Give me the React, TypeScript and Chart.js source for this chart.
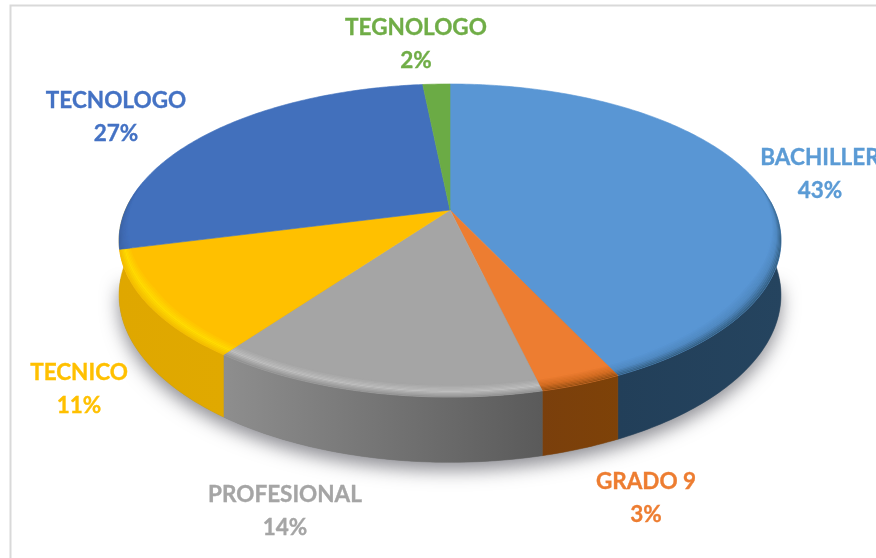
import React, { useEffect, useRef } from "react";
import { Chart, registerables, ArcElement, PieController } from "chart.js";

const categories = ["BACHILLER", "GRADO 9", "PROFESIONAL", "TECNICO", "TECNOLOGO", "TEGNOLOGO"];
const shares = [43, 3.3, 13.7, 11, 27.4, 1.6];
const sliceColors = ["#5996D4", "#ED7D31", "#A5A5A5", "#FFC000", "#4270BC", "#6BAB45"];
const labelColors = ["#5B9BD5", "#ED7D31", "#A5A5A5", "#FFC000", "#4472C4", "#70AD47"];

// Appearance tables
const wallStops = [
  ["#223F59", "#25445F"],
  ["#7A3F0C", "#7E4208"],
  ["#8E8E8E", "#5A5A5A"],
  ["#DFA700", "#E0A900"],
];
const rimStops = [
  ["#5996D4", "#4F88C0", "#2F5878"],
  ["#ED7D31", "#D06A20", "#8A4A10"],
  ["#A5A5A5", "#BEBEBE", "#8A8A8A"],
  ["#FFC000", "#FFDC00", "#F0B800"],
  ["#4270BC", "#3F6AB2", "#3A5F9E"],
  ["#6BAB45", "#62A03F", "#568C37"],
];
const labelPlaces = [
  [820, 158],
  [646, 482],
  [285, 495],
  [79, 373],
  [116, 101],
  [416, 28],
];

const VIEW = { cx: 450, cy: 210, a: 324.6, b: 150.6, p: 0.195, depth: 52.5 };

function project(angle: number, r = 1, z = 0): [number, number] {
  const u = r * Math.cos(angle);
  const v = r * Math.sin(angle);
  const w = 1 - VIEW.p * v;
  return [VIEW.cx + (VIEW.a * u) / w, VIEW.cy + (VIEW.b * v) / w + (z * VIEW.depth) / w];
}

function hexMix(c1: string, c2: string, t: number) {
  const h = (c: string, i: number) => parseInt(c.slice(1 + i * 2, 3 + i * 2), 16);
  const m = (i: number) => Math.round(h(c1, i) + (h(c2, i) - h(c1, i)) * t);
  return `rgb(${m(0)},${m(1)},${m(2)})`;
}

function bevelWidth(angle: number) {
  const v = Math.sin(angle);
  return 0.055 * Math.max(0, Math.min(1, (v + 0.2) / 0.7));
}

const RIM_STEPS = 10;

function tracePoints(ctx: CanvasRenderingContext2D, pts: [number, number][]) {
  pts.forEach(([x, y], i) => (i ? ctx.lineTo(x, y) : ctx.moveTo(x, y)));
}

function angleSteps(a0: number, a1: number) {
  const n = Math.max(2, Math.ceil(Math.abs(a1 - a0) / 0.015));
  const out: number[] = [];
  for (let i = 0; i <= n; i++) out.push(a0 + ((a1 - a0) * i) / n);
  return out;
}

class ProjectedArc extends ArcElement {
  static id = "projectedArc";
  draw(ctx: CanvasRenderingContext2D) {
    const el = this as any;
    const index = el.$context ? el.$context.dataIndex : 0;
    const color = el.options.backgroundColor;
    const angles = angleSteps(el.startAngle, el.endAngle);
    ctx.save();
    ctx.fillStyle = color;
    ctx.strokeStyle = color;
    ctx.lineWidth = 0.6;
    ctx.beginPath();
    ctx.moveTo(VIEW.cx, VIEW.cy);
    angles.forEach((t) => {
      const [x, y] = project(t);
      ctx.lineTo(x, y);
    });
    ctx.closePath();
    ctx.fill();
    ctx.stroke();
    const [c0, c1, c2] = rimStops[index];
    for (let k = 0; k < RIM_STEPS; k++) {
      const f0 = k / RIM_STEPS;
      const f1 = (k + 1) / RIM_STEPS;
      const col = f0 < 0.5 ? hexMix(c0, c1, f0 * 2) : hexMix(c1, c2, (f0 - 0.5) * 2);
      const outer = angles.map((t) => project(t, 1 - bevelWidth(t) * (1 - f1)));
      const inner = angles.map((t) => project(t, 1 - bevelWidth(t) * (1 - f0))).reverse();
      ctx.fillStyle = col;
      ctx.beginPath();
      tracePoints(ctx, outer.concat(inner));
      ctx.closePath();
      ctx.fill();
    }
    ctx.restore();
  }
}

class ProjectedPie extends PieController {
  static id = "projectedPie";
  static defaults = { dataElementType: "projectedArc" };
}

const extrusion = {
  id: "extrusion",
  beforeDatasetsDraw(chart: any) {
    const { ctx } = chart;
    const arcs = chart.getDatasetMeta(0).data;
    ctx.save();
    // frame
    ctx.strokeStyle = "#D9D9D9";
    ctx.lineWidth = 2;
    ctx.beginPath();
    ctx.moveTo(876, 5.5);
    ctx.lineTo(10.5, 5.5);
    ctx.lineTo(10.5, 558);
    ctx.stroke();
    // soft shadow under the front half of the disc
    ctx.save();
    ctx.shadowColor = "rgba(50,50,60,0.55)";
    ctx.shadowBlur = 18;
    ctx.shadowOffsetY = 8;
    ctx.fillStyle = "#808080";
    ctx.beginPath();
    tracePoints(ctx, angleSteps(0.1, Math.PI - 0.1).map((t) => project(t, 1, 1)));
    ctx.closePath();
    ctx.fill();
    ctx.restore();
    // side wall of each slice that faces the viewer
    arcs.slice(0, wallStops.length).forEach((arc: any, i: number) => {
      const isLast = i === wallStops.length - 1;
      const isFirst = i === 0;
      // the outermost visible walls run on to the silhouette's turning point
      const from = isFirst ? Math.max(arc.startAngle, -0.05) : arc.startAngle;
      const to = isLast ? Math.PI + 0.08 : arc.endAngle;
      const angles = angleSteps(from, to);
      const top = angles.map((t) => project(t, 1, 0));
      const bottom = angles.map((t) => project(t, 1, 1)).reverse();
      const xs = top.map((p) => p[0]);
      const x0 = Math.min(...xs);
      const x1 = Math.max(...xs);
      const g = ctx.createLinearGradient(x0, 0, x1 + 1, 0);
      const [a, b] = wallStops[i];
      g.addColorStop(0, a);
      g.addColorStop(1, b);
      ctx.fillStyle = g;
      ctx.strokeStyle = g;
      ctx.lineWidth = 0.5;
      ctx.beginPath();
      tracePoints(ctx, top.concat(bottom));
      ctx.closePath();
      ctx.fill();
      ctx.stroke();
    });
    ctx.restore();
  },
  afterDatasetsDraw(chart: any) {
    const { ctx } = chart;
    const values: number[] = chart.data.datasets[0].data;
    const total = values.reduce((s, v) => s + v, 0);
    ctx.save();
    ctx.font = 'bold 22.5px Lato, "Open Sans", sans-serif';
    ctx.textAlign = "center";
    ctx.textBaseline = "middle";
    ctx.lineWidth = 0.35;
    values.forEach((v, i) => {
      const [x, y] = labelPlaces[i];
      ctx.fillStyle = labelColors[i];
      ctx.strokeStyle = labelColors[i];
      const name = chart.data.labels[i];
      const pct = `${Math.round((v / total) * 100)}%`;
      ctx.fillText(name, x, y);
      ctx.strokeText(name, x, y);
      ctx.fillText(pct, x, y + 33);
      ctx.strokeText(pct, x, y + 33);
    });
    ctx.restore();
  },
};

Chart.register(...registerables, ProjectedArc as any, ProjectedPie as any);

export default function App() {
  const ref = useRef<HTMLCanvasElement>(null);
  useEffect(() => {
    const chart = new Chart(ref.current as HTMLCanvasElement, {
      type: "projectedPie" as any,
      data: {
        labels: categories,
        datasets: [{ data: shares, backgroundColor: sliceColors, borderWidth: 0 }],
      },
      options: {
        animation: false,
        responsive: false,
        plugins: { legend: { display: false }, tooltip: { enabled: false } },
      },
      plugins: [extrusion],
    } as any);
    return () => chart.destroy();
  }, []);
  return (
    <div style={{ position: "absolute", left: 0, top: 0, width: 876, height: 558, background: "#fff" }}>
      <canvas ref={ref} width={876} height={558} style={{ display: "block" }} />
    </div>
  );
}
